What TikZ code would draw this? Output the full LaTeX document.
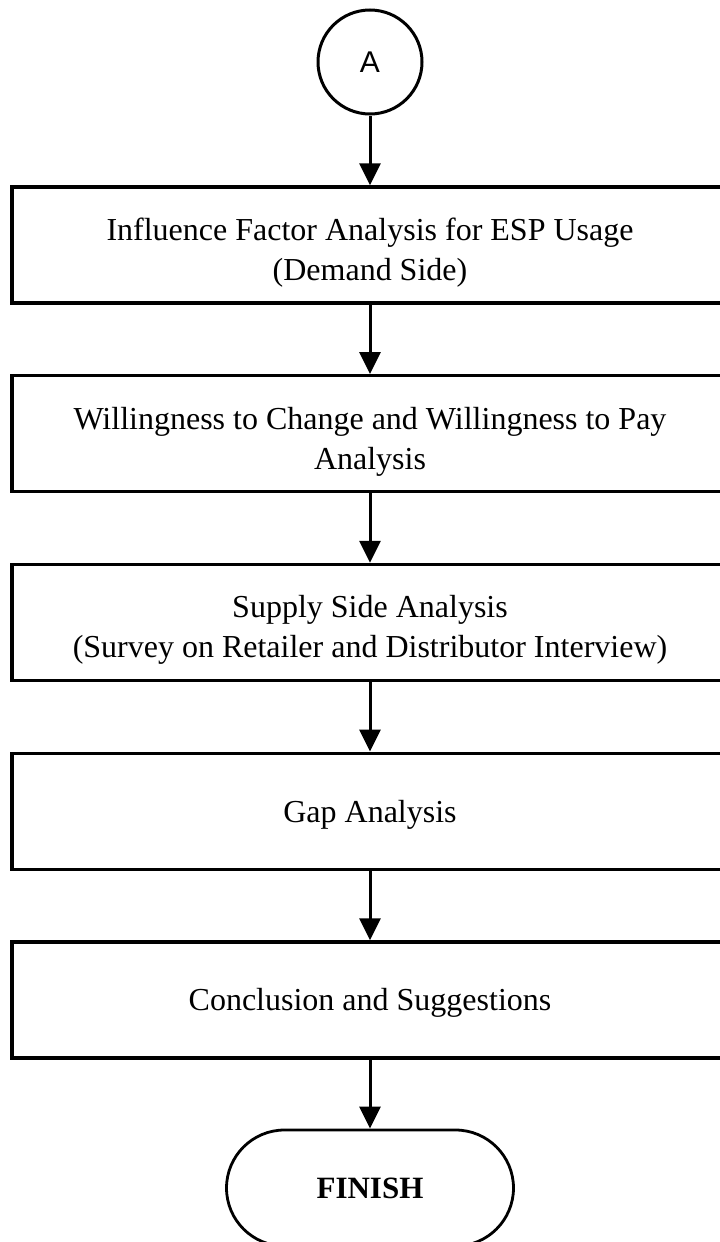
\documentclass[tikz,border=0pt]{standalone}
\usepackage{fontspec}
\setmainfont{Liberation Serif}
\newfontfamily\labelsans{Liberation Sans}
\usetikzlibrary{arrows.meta}

\begin{document}
\begin{tikzpicture}[x=1pt,y=-1pt,
  stepbox/.style={draw, line width=3.3pt, rectangle, minimum width=716pt,
    minimum height=116pt, inner sep=0pt},
  steptext/.style={inner sep=0pt, align=center,
    font=\fontsize{32}{40}\selectfont},
  connector/.style={draw, circle, line width=3pt, minimum size=104pt,
    inner sep=0pt, font=\labelsans\fontsize{30}{34}\selectfont},
  terminal/.style={draw, line width=2.8pt, rectangle, rounded corners=58pt,
    minimum width=287pt, minimum height=116pt, inner sep=0pt,
    font=\bfseries\fontsize{31}{36}\selectfont},
  flow/.style={line width=3pt, -{Triangle[length=22pt,width=21pt]}}]

\useasboundingbox (0,0) rectangle (720,1242);
\fill[white] (0,0) rectangle (720,1242);

% off-page connector and process steps
\node[connector] (a) at (370,62) {A};
\node[stepbox] (s1) at (370,245) {};
\node[stepbox] (s2) at (370,433.75) {};
\node[stepbox] (s3) at (370,622.5) {};
\node[stepbox] (s4) at (370,811.25) {};
\node[stepbox] (s5) at (370,1000) {};
\node[terminal] (fin) at (370,1188) {FINISH};

% step captions, set slightly below the box centres
\node[steptext] (t1) at (370,253) {Influence Factor Analysis for ESP Usage\\(Demand Side)};
\node[steptext] (t2) at (370,442) {Willingness to Change and Willingness to Pay\\Analysis};
\node[steptext] (t3) at (370,630) {Supply Side Analysis\\(Survey on Retailer and Distributor Interview)};
\node[steptext] (t4) at (370,815) {Gap Analysis};
\node[steptext] (t5) at (370,1003) {Conclusion and Suggestions};

\draw[flow] (a) -- (s1);
\draw[flow] (s1) -- (s2);
\draw[flow] (s2) -- (s3);
\draw[flow] (s3) -- (s4);
\draw[flow] (s4) -- (s5);
\draw[flow] (s5) -- (fin);
\end{tikzpicture}
\end{document}
